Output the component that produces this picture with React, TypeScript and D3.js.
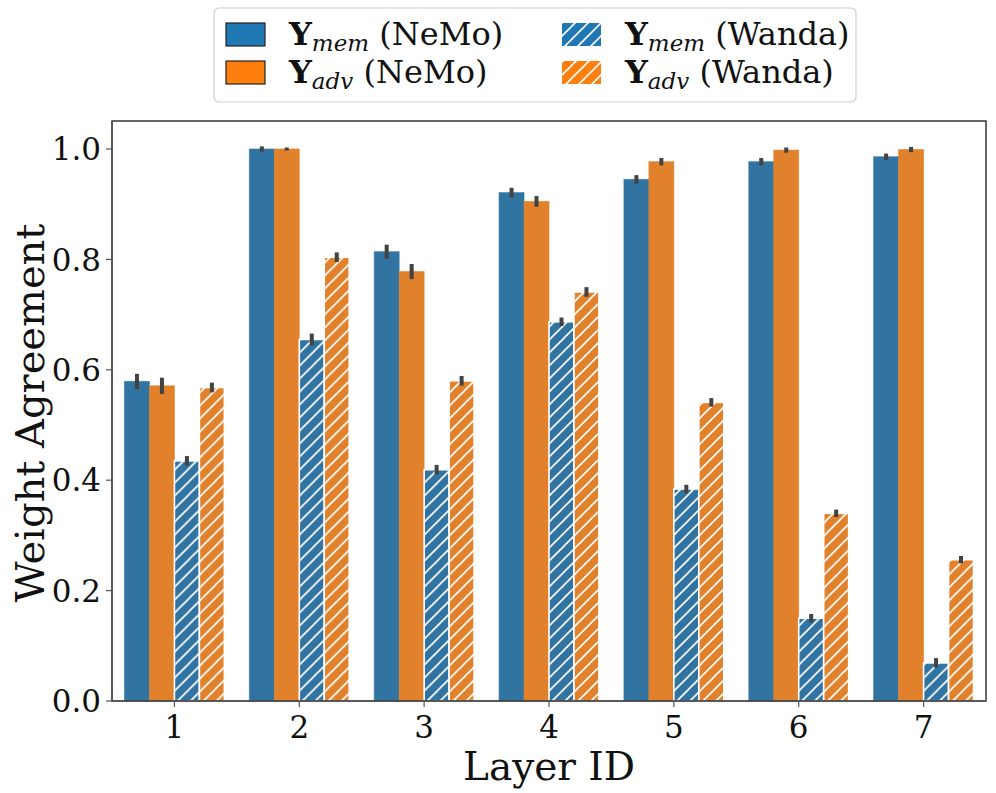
import React from 'react'
import * as d3 from 'd3'

// layer ids on the x axis
const layers = ['1', '2', '3', '4', '5', '6', '7']
const seriesKeys = ['memNemo', 'advNemo', 'memWanda', 'advWanda']

// bar heights
const memNemo = [0.579, 1.0, 0.814, 0.921, 0.945, 0.977, 0.986]
const advNemo = [0.571, 1.0, 0.778, 0.905, 0.977, 0.998, 0.999]
const memWanda = [0.435, 0.655, 0.419, 0.687, 0.384, 0.15, 0.069]
const advWanda = [0.568, 0.804, 0.58, 0.741, 0.541, 0.34, 0.256]

// half lengths of the error bars
const memNemoErr = [0.011, 0.002, 0.01, 0.006, 0.005, 0.004, 0.003]
const advNemoErr = [0.012, 0.0, 0.011, 0.007, 0.004, 0.002, 0.002]
const memWandaErr = [0.006, 0.008, 0.006, 0.005, 0.005, 0.005, 0.006]
const advWandaErr = [0.006, 0.006, 0.006, 0.006, 0.005, 0.004, 0.004]

const yTicks = [0, 0.2, 0.4, 0.6, 0.8, 1.0]

const values: any = { memNemo, advNemo, memWanda, advWanda }
const errors: any = { memNemo: memNemoErr, advNemo: advNemoErr, memWanda: memWandaErr, advWanda: advWandaErr }
const fills: any = { memNemo: '#3274a1', advNemo: '#e1812c', memWanda: '#3274a1', advWanda: '#e1812c' }
const legendFills: any = { memNemo: '#1f77b4', advNemo: '#ff7f0e', memWanda: '#1f77b4', advWanda: '#ff7f0e' }
const hatched: any = { memNemo: false, advNemo: false, memWanda: true, advWanda: true }

const W = 996
const H = 793
const margin = { left: 112, right: 10, top: 121, bottom: 92 }
const font = 'DejaVu Serif, serif'

const App: React.FC = () => {
  const x = d3
    .scaleBand()
    .domain(layers)
    .range([margin.left, W - margin.right])
    .padding(0)
  const inner = d3
    .scaleBand()
    .domain(seriesKeys)
    .range([0, x.bandwidth() * 0.8])
  const y = d3
    .scaleLinear()
    .domain([0, 1])
    .range([701, 149])

  const plotBottom = y(0)
  const offset = x.bandwidth() * 0.1

  const legendLabel = (sub: string, tag: string) => (
    <>
      <tspan fontWeight="bold">Y</tspan>
      <tspan fontStyle="italic" fontSize={23} dy={6}>
        {sub}
      </tspan>
      <tspan dy={-6}> ({tag})</tspan>
    </>
  )

  const legendItems = [
    { key: 'memNemo', sub: 'mem', tag: 'NeMo', col: 0, row: 0 },
    { key: 'advNemo', sub: 'adv', tag: 'NeMo', col: 0, row: 1 },
    { key: 'memWanda', sub: 'mem', tag: 'Wanda', col: 1, row: 0 },
    { key: 'advWanda', sub: 'adv', tag: 'Wanda', col: 1, row: 1 },
  ]

  return (
    <svg width={W} height={H} style={{ position: 'absolute', left: 0, top: 0, background: '#fff' }} fontFamily={font}>
      <defs>
        <pattern id="hatch" patternUnits="userSpaceOnUse" width={13} height={13}>
          <path d="M-2,2 L2,-2 M0,13 L13,0 M11,15 L15,11" stroke="#fff" strokeWidth={1.6} />
        </pattern>
      </defs>

      {/* bars */}
      {layers.map((layer, i) => (
        <g key={layer} transform={`translate(${(x(layer) as number) + offset},0)`}>
          {seriesKeys.map(k => {
            const v = values[k][i]
            const bx = inner(k) as number
            const bw = inner.bandwidth()
            return (
              <g key={k}>
                <rect
                  x={bx}
                  y={y(v)}
                  width={bw}
                  height={plotBottom - y(v)}
                  fill={fills[k]}
                  stroke={hatched[k] ? '#fff' : fills[k]}
                  strokeOpacity={hatched[k] ? 1 : 0.6}
                  strokeWidth={hatched[k] ? 1.6 : 1}
                />
                {hatched[k] && (
                  <rect x={bx} y={y(v)} width={bw} height={plotBottom - y(v)} fill="url(#hatch)" />
                )}
              </g>
            )
          })}
          {seriesKeys.map(k => {
            const v = values[k][i]
            const e = errors[k][i]
            const cx = (inner(k) as number) + inner.bandwidth() / 2
            return (
              <line
                key={k + 'e'}
                x1={cx}
                x2={cx}
                y1={y(v + e) - 1.5}
                y2={y(v - e) + 1.5}
                stroke="#424242"
                strokeWidth={4}
              />
            )
          })}
        </g>
      ))}

      {/* frame */}
      <rect
        x={margin.left}
        y={margin.top}
        width={W - margin.right - margin.left}
        height={plotBottom - margin.top}
        fill="none"
        stroke="#000"
        strokeWidth={1.2}
      />
      <line x1={margin.left} x2={margin.left} y1={margin.top} y2={plotBottom} stroke="#555" strokeWidth={1.5} />
      <line x1={margin.left} x2={W - margin.right} y1={plotBottom} y2={plotBottom} stroke="#555" strokeWidth={1.5} />

      {/* y axis */}
      {yTicks.map(t => (
        <g key={t}>
          <line x1={margin.left - 6} x2={margin.left} y1={y(t)} y2={y(t)} stroke="#555" strokeWidth={1.2} />
          <text x={margin.left - 11} y={y(t)} dy="0.36em" textAnchor="end" fontSize={31} fill="#111">
            {t.toFixed(1)}
          </text>
        </g>
      ))}
      <text
        transform={`translate(44,${(margin.top + plotBottom) / 2 + 2}) rotate(-90)`}
        textAnchor="middle"
        fontSize={40}
        fill="#111"
      >
        Weight Agreement
      </text>

      {/* x axis */}
      {layers.map(l => {
        const cx = (x(l) as number) + x.bandwidth() / 2
        return (
          <g key={l}>
            <line x1={cx} x2={cx} y1={plotBottom} y2={plotBottom + 6} stroke="#555" strokeWidth={1.2} />
            <text x={cx} y={plotBottom + 37} textAnchor="middle" fontSize={31} fill="#111">
              {l}
            </text>
          </g>
        )
      })}
      <text x={(margin.left + W - margin.right) / 2} y={780} textAnchor="middle" fontSize={39} fill="#111">
        Layer ID
      </text>

      {/* legend */}
      <rect x={214} y={8} width={642} height={94} rx={5} fill="#fff" fillOpacity={0.8} stroke="#d0d0d0" strokeWidth={1.2} />
      {legendItems.map(it => {
        const px = it.col === 0 ? 226 : 562
        const py = it.row === 0 ? 23 : 61
        return (
          <g key={it.key}>
            <rect
              x={px}
              y={py}
              width={39}
              height={23}
              fill={legendFills[it.key]}
              stroke={hatched[it.key] ? 'none' : '#222'}
              strokeWidth={1.2}
            />
            {hatched[it.key] && <rect x={px} y={py} width={39} height={23} fill="url(#hatch)" />}
            <text x={px + 63} y={py + 22} fontSize={32} fill="#111">
              {legendLabel(it.sub, it.tag)}
            </text>
          </g>
        )
      })}
    </svg>
  )
}

export default App
